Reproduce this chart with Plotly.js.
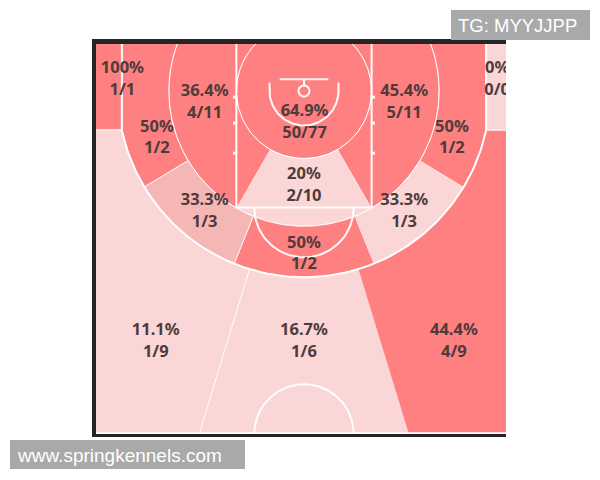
<!DOCTYPE html>
<html>
<head>
<meta charset="utf-8">
<script src="https://cdn.plot.ly/plotly-3.0.1.min.js"></script>
<style>html,body{margin:0;padding:0;background:#fff;}#chart{width:600px;height:480px;}</style>
</head>
<body>
<div id="chart"></div>
<script>
// ---------------- DATA ----------------
const zoneNames = ['Restricted', 'Mid Left', 'Mid Center', 'Mid Right',
  'Long Left Baseline', 'Long Left Wing', 'Long Center', 'Long Right Wing', 'Long Right Baseline',
  'Corner 3 Left', '3PT Left Wing', '3PT Center', '3PT Right Wing', 'Corner 3 Right'];
const made     = [50, 4, 2, 5, 1, 1, 1, 1, 1, 1, 1, 1, 4, 0];
const attempts = [77, 11, 10, 11, 2, 3, 2, 3, 2, 1, 9, 6, 9, 0];
const pctLabels = ['64.9%', '36.4%', '20%', '45.4%', '50%', '33.3%', '50%', '33.3%', '50%', '100%', '11.1%', '16.7%', '44.4%', '0%'];
const heat = ['hot', 'hot', 'cold', 'hot', 'hot', 'mid', 'hot', 'cold', 'hot', 'hot', 'cold', 'cold', 'hot', 'cold'];

// ---------------- STYLE / GEOMETRY (FIBA half court, metres) ----------------
const heatColors = {hot: '#ff8080', mid: '#f5b6b6', cold: '#fbd6d6'};
const textColor = '#4e3b3b';
const Yb = 1.575, R_RA = 2.45, R_MID = 4.9, R3 = 6.75, XC = 6.6;
const TOP = -0.3, BOT = 14.2, SIDE = 7.7;
const A_MID = 60, A_LB = 31, A_LC = 68, A_3 = 73;
const D = Math.PI / 180;
const thJ = Math.acos(XC / R3) / D;
const yJ = Yb + Math.sqrt(R3 * R3 - XC * XC);

function P(r, deg) { return [r * Math.cos(deg * D), Yb + r * Math.sin(deg * D)]; }
function arc(r, d1, d2, n) {
  n = n || 60; const pts = [];
  for (let i = 0; i <= n; i++) pts.push(P(r, d1 + (d2 - d1) * i / n));
  return pts;
}
function topCrossLeft(r) { return 180 - Math.asin((TOP - Yb) / r) / D; }
function rayY(deg, Y) { const r = (Y - Yb) / Math.sin(deg * D); return P(r, deg); }
function mirror(pts) { return pts.map(p => [-p[0], p[1]]); }

const midLeft = arc(R_MID, 180 - A_MID, topCrossLeft(R_MID)).concat(arc(R_RA, topCrossLeft(R_RA), 180 - A_MID));
const midCenter = arc(R_MID, 180 - A_MID, A_MID).concat(arc(R_RA, A_MID, 180 - A_MID));
const ra = arc(R_RA, 0, 360, 120);
const longBaseLeft = arc(R3, 180 - A_LB, 180 - thJ).concat([[-XC, TOP]], arc(R_MID, topCrossLeft(R_MID), 180 - A_LB));
const longWingLeft = arc(R3, 180 - A_LC, 180 - A_LB).concat(arc(R_MID, 180 - A_LB, 180 - A_LC));
const longCenter = arc(R3, A_LC, 180 - A_LC).concat(arc(R_MID, 180 - A_LC, A_LC));
const cornerLeft = [[-SIDE, TOP], [-XC, TOP], [-XC, yJ], [-SIDE, yJ]];
const threeWingLeft = arc(R3, 180 - A_3, 180 - thJ).concat([[-SIDE, yJ], [-SIDE, BOT], rayY(180 - A_3, BOT)]);
const threeCenter = arc(R3, A_3, 180 - A_3).concat([rayY(180 - A_3, BOT), rayY(A_3, BOT)]);

const zonePolys = [ra, midLeft, midCenter, mirror(midLeft),
  longBaseLeft, longWingLeft, longCenter, mirror(longWingLeft), mirror(longBaseLeft),
  cornerLeft, threeWingLeft, threeCenter, mirror(threeWingLeft), mirror(cornerLeft)];

const labelPos = [[0.02, 2.74], [-3.6, 2.0], [0, 5.02], [3.63, 2.0],
  [-5.33, 3.3], [-3.6, 5.95], [0, 7.49], [3.63, 5.95], [5.36, 3.3],
  [-6.58, 1.18], [-5.37, 10.67], [0, 10.67], [5.43, 10.67], [7.0, 1.18]];

const traces = [];
zonePolys.forEach((poly, i) => {
  traces.push({
    type: 'scatter', mode: 'lines', fill: 'toself',
    x: poly.map(p => p[0]), y: poly.map(p => p[1]),
    fillcolor: heatColors[heat[i]], line: {color: 'rgba(255,255,255,0.95)', width: 1},
    hoverinfo: 'skip', name: zoneNames[i]
  });
});

// court lines
const courtLines = [];
courtLines.push([[-XC, TOP], [-XC, yJ]].concat(arc(R3, 180 - thJ, thJ, 120), [[XC, yJ], [XC, TOP]]));
courtLines.push([[-2.45, TOP], [-2.45, 5.8], [2.45, 5.8], [2.45, TOP]]);
courtLines.push((function () { const c = []; for (let i = 0; i <= 60; i++) { const t = Math.PI * i / 60; c.push([1.8 * Math.cos(t), 5.8 + 1.8 * Math.sin(t)]); } return c; })());
courtLines.push([[-1.25, 1.27], [-1.25, Yb]].concat(arc(1.25, 180, 0, 60), [[1.25, Yb], [1.25, 1.27]]));
courtLines.push([[-0.88, 1.15], [0.88, 1.15]]);
courtLines.push([[0, 1.15], [0, Yb - 0.2]]);
courtLines.push(arc(0.2, 0, 360, 40));
courtLines.push([[-SIDE, 13.97], [SIDE, 13.97]]);
courtLines.push((function () { const c = []; for (let i = 0; i <= 60; i++) { const t = Math.PI + Math.PI * i / 60; c.push([1.8 * Math.cos(t), 14 + 1.8 * Math.sin(t)]); } return c; })());
courtLines.forEach(l => traces.push({
  type: 'scatter', mode: 'lines', x: l.map(p => p[0]), y: l.map(p => p[1]),
  line: {color: 'rgba(255,255,255,0.95)', width: 2}, hoverinfo: 'skip'
}));
// lane hash marks
[1.8, 2.74, 3.83].forEach(y => {
  [[-2.45, -2.57], [2.45, 2.57]].forEach(xs => traces.push({
    type: 'scatter', mode: 'lines', x: xs, y: [y, y],
    line: {color: 'rgba(255,255,255,0.95)', width: 3}, hoverinfo: 'skip'
  }));
});

// labels: percentage over made/attempts
traces.push({
  type: 'scatter', mode: 'text',
  x: labelPos.map(p => p[0]), y: labelPos.map(p => p[1]),
  text: pctLabels.map((p, i) => p + '<br>' + made[i] + '/' + attempts[i]),
  textposition: 'middle center', cliponaxis: true,
  textfont: {family: 'Noto Sans, Roboto, sans-serif', size: 16.5, color: textColor, weight: 700},
  hoverinfo: 'skip'
});

// pixel -> paper helpers (plot area: x 96..506, y 44..434)
const px = v => (v - 96) / 410;
const py = v => (434 - v) / 390;
const frame = '#252525';
const layout = {
  width: 600, height: 480,
  margin: {l: 96, r: 94, t: 44, b: 46, pad: 0},
  paper_bgcolor: '#ffffff', plot_bgcolor: '#ffffff',
  showlegend: false,
  xaxis: {range: [-7.536, 7.319], visible: false, fixedrange: true},
  yaxis: {range: [14.0, -0.125], visible: false, fixedrange: true},
  shapes: [
    {type: 'rect', xref: 'paper', yref: 'paper', x0: px(92), x1: px(506), y0: py(44), y1: py(39), fillcolor: frame, line: {width: 0}, layer: 'above'},
    {type: 'rect', xref: 'paper', yref: 'paper', x0: px(92), x1: px(96), y0: py(437), y1: py(39), fillcolor: frame, line: {width: 0}, layer: 'above'},
    {type: 'rect', xref: 'paper', yref: 'paper', x0: px(92), x1: px(506), y0: py(437), y1: py(434), fillcolor: frame, line: {width: 0}, layer: 'above'},
    {type: 'rect', xref: 'paper', yref: 'paper', x0: px(451), x1: px(590), y0: py(40), y1: py(10), fillcolor: '#a9a9a9', line: {width: 0}, layer: 'above'},
    {type: 'rect', xref: 'paper', yref: 'paper', x0: px(10), x1: px(245), y0: py(469), y1: py(440), fillcolor: '#a9a9a9', line: {width: 0}, layer: 'above'}
  ],
  annotations: [
    {xref: 'paper', yref: 'paper', x: px(456), y: py(25.5), xanchor: 'left', yanchor: 'middle', showarrow: false,
     text: 'TG: MYYJJPP', font: {family: 'Liberation Sans, Arial, sans-serif', size: 18.5, color: '#ffffff'}},
    {xref: 'paper', yref: 'paper', x: px(15), y: py(455), xanchor: 'left', yanchor: 'middle', showarrow: false,
     text: 'www.springkennels.com', font: {family: 'Liberation Sans, Arial, sans-serif', size: 19, color: '#ffffff'}}
  ]
};
Plotly.newPlot('chart', traces, layout, {staticPlot: true, displayModeBar: false});
</script>
</body>
</html>
